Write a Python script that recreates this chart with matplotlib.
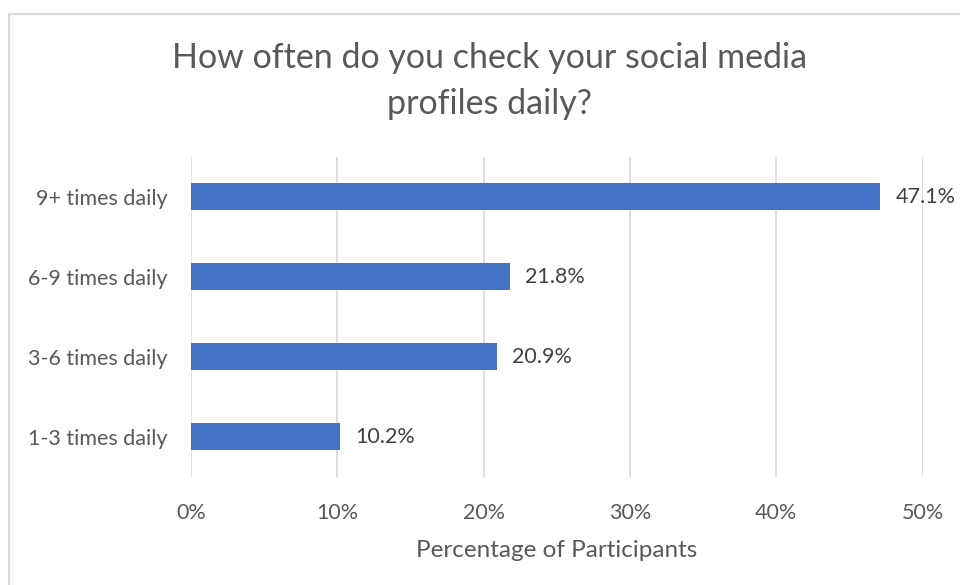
import matplotlib.pyplot as plt
from matplotlib.lines import Line2D
from matplotlib.ticker import PercentFormatter

plt.rcParams['font.family'] = ['Lato', 'DejaVu Sans']

categories = ['1-3 times daily', '3-6 times daily', '6-9 times daily', '9+ times daily']
values = [10.2, 20.9, 21.8, 47.1]
xticks = [0, 10, 20, 30, 40, 50]

text_col = '#595959'
bar_col = '#4472C4'

fig = plt.figure(figsize=(9.6, 5.85), dpi=100)
ax = fig.add_axes([0.199, 0.185, 0.762, 0.547])

bars = ax.barh(categories, values, height=0.34, color=bar_col, zorder=3)
for b, v in zip(bars, values):
    ax.text(b.get_width() + 1.05, b.get_y() + b.get_height() / 2, f'{v:.1f}%',
            va='center', ha='left', fontsize=15.5, color='#404040', zorder=4)

ax.set_xlim(0, 50)
ax.set_ylim(-0.5, 3.5)
ax.set_xticks(xticks)
ax.xaxis.set_major_formatter(PercentFormatter(decimals=0))
ax.grid(axis='x', color='#D9D9D9', linewidth=1.2, zorder=0)
for s in ax.spines.values():
    s.set_visible(False)
ax.tick_params(axis='both', length=0, labelsize=15.5, colors=text_col)
ax.tick_params(axis='y', pad=17)
ax.tick_params(axis='x', pad=19)
ax.set_xlabel('Percentage of Participants', fontsize=17.5, color=text_col, labelpad=12)

fig.text(0.51, 0.862, 'How often do you check your social media\nprofiles daily?',
         ha='center', va='center', fontsize=24.5, color=text_col, linespacing=1.55)

# light frame along the top and left edges
fig.add_artist(Line2D([0.0094, 0.0094], [0, 0.976], transform=fig.transFigure,
                      color='#D9D9D9', linewidth=1.5))
fig.add_artist(Line2D([0.0094, 1], [0.976, 0.976], transform=fig.transFigure,
                      color='#D9D9D9', linewidth=1.5))

fig.savefig('out.png', dpi=100)
